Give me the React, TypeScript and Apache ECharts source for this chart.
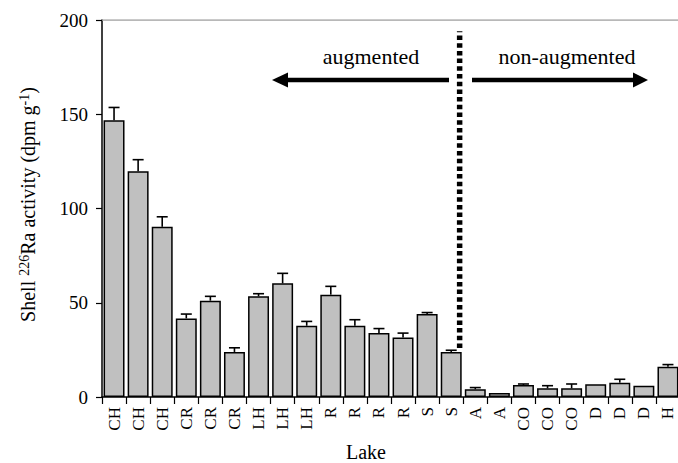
import React, { useEffect, useRef } from "react";
import * as echarts from "echarts";

const categories = ["CH", "CH", "CH", "CR", "CR", "CR", "LH", "LH", "LH", "R", "R", "R", "R", "S", "S", "A", "A", "CO", "CO", "CO", "D", "D", "D", "H"];
const means = [146.8, 119.7, 90.3, 41.7, 51.1, 23.9, 53.4, 60.3, 37.8, 54.3, 37.8, 33.9, 31.5, 44.0, 23.9, 4.1, 2.1, 6.4, 4.6, 4.6, 6.7, 7.6, 6.0, 16.1];
const errors = [6.8, 6.2, 5.3, 2.3, 2.3, 2.2, 1.4, 5.3, 2.3, 4.4, 3.2, 2.4, 2.4, 0.8, 0.9, 0.9, 0, 0.5, 1.4, 2.3, 0, 1.8, 0, 1.1];
const yTicks = { min: 0, max: 200, interval: 50 };
const dividerX = 14.35;
const dividerRange = [26, 194];
const groupLabels = ["augmented", "non-augmented"];

const FONT = "Liberation Serif";

export default function App() {
  const ref = useRef<HTMLDivElement>(null);
  useEffect(() => {
    if (!ref.current) return;
    const chart = echarts.init(ref.current, null, { renderer: "svg" });
    const errData = means.map((m, i) => [i, m, errors[i]]);
    chart.setOption({
      animation: false,
      backgroundColor: "#ffffff",
      textStyle: { fontFamily: FONT, color: "#000" },
      grid: { left: 102, right: -2, top: 20, bottom: 66, containLabel: false, outerBoundsMode: "none" },
      xAxis: [
        {
          type: "category",
          data: categories,
          name: "Lake",
          nameLocation: "middle",
          nameGap: 45,
          nameTextStyle: { fontFamily: FONT, fontSize: 20, color: "#000", padding: [0, 50, 0, 0] },
          axisLine: { show: true, onZero: false, lineStyle: { color: "#000", width: 1.5 } },
          axisTick: { show: true, alignWithLabel: false, length: 7, lineStyle: { color: "#000", width: 1.2 } },
          axisLabel: { rotate: 90, interval: 0, fontFamily: FONT, fontSize: 17, color: "#000", margin: 10 },
          splitLine: { show: false },
        },
        { type: "value", min: -0.5, max: 23.5, show: false, splitLine: { show: false }, axisLine: { show: false, onZero: false } },
      ],
      yAxis: {
        type: "value",
        min: yTicks.min,
        max: yTicks.max,
        interval: yTicks.interval,
        name: "{t|Shell }{s|226}{t|Ra activity (dpm g}{s|-1}{t|)}",
        nameLocation: "middle",
        nameGap: 64,
        nameTextStyle: {
          fontFamily: FONT,
          fontSize: 20,
          color: "#000",
          padding: [0, 0, 0, 8],
          rich: {
            t: { fontFamily: FONT, fontSize: 20, color: "#000", verticalAlign: "bottom" },
            s: { fontFamily: FONT, fontSize: 14, color: "#000", verticalAlign: "bottom", padding: [0, 0, 7, 0] },
          },
        },
        axisLine: { show: true, onZero: false, lineStyle: { color: "#000", width: 1.5 } },
        axisTick: { show: true, length: 6, lineStyle: { color: "#000", width: 1.2 } },
        axisLabel: { fontFamily: FONT, fontSize: 19, color: "#000", margin: 14 },
        splitLine: { show: false },
      },
      series: [
        {
          type: "bar",
          data: means,
          barCategoryGap: "13%",
          itemStyle: { color: "#c0c0c0", borderColor: "#000", borderWidth: 1.5 },
          z: 2,
        },
        {
          type: "custom",
          data: errData,
          encode: { x: 0, y: 1 },
          z: 3,
          renderItem: (params: any, api: any) => {
            const idx = api.value(0);
            const m = api.value(1);
            const e = api.value(2);
            if (!e) return null;
            const base = api.coord([idx, m]);
            const top = api.coord([idx, m + e]);
            const hw = 5.5;
            return {
              type: "group",
              children: [
                { type: "line", shape: { x1: base[0], y1: base[1], x2: top[0], y2: top[1] }, style: { stroke: "#000", lineWidth: 1.6 } },
                { type: "line", shape: { x1: top[0] - hw, y1: top[1], x2: top[0] + hw, y2: top[1] }, style: { stroke: "#000", lineWidth: 1.6 } },
              ],
            };
          },
        },
        {
          type: "line",
          xAxisIndex: 1,
          yAxisIndex: 0,
          data: [[-0.5, yTicks.max], [23.5, yTicks.max]],
          symbol: "none",
          lineStyle: { color: "#a0a0a0", width: 1.5 },
          z: 1,
        },
        {
          type: "line",
          xAxisIndex: 1,
          yAxisIndex: 0,
          data: [[dividerX, dividerRange[0]], [dividerX, dividerRange[1]]],
          symbol: "none",
          lineStyle: { color: "#000", width: 5.5, type: [4.5, 3.2], cap: "butt" },
          z: 4,
        },
      ],
      graphic: [
        { type: "line", shape: { x1: 449, y1: 80, x2: 285, y2: 80 }, style: { stroke: "#000", lineWidth: 4.5 } },
        { type: "polygon", shape: { points: [[272, 80], [288, 72.5], [288, 87.5]] }, style: { fill: "#000" } },
        { type: "line", shape: { x1: 472, y1: 80, x2: 636, y2: 80 }, style: { stroke: "#000", lineWidth: 4.5 } },
        { type: "polygon", shape: { points: [[648, 80], [633, 72.5], [633, 87.5]] }, style: { fill: "#000" } },
        { type: "text", x: 371, y: 56, style: { text: groupLabels[0], fontFamily: FONT, fontSize: 22, fill: "#000", align: "center", verticalAlign: "middle" } },
        { type: "text", x: 567, y: 56, style: { text: groupLabels[1], fontFamily: FONT, fontSize: 22, fill: "#000", align: "center", verticalAlign: "middle" } },
      ],
    });
    return () => chart.dispose();
  }, []);
  return <div ref={ref} style={{ position: "fixed", left: 0, top: 0, width: 678, height: 463 }} />;
}
